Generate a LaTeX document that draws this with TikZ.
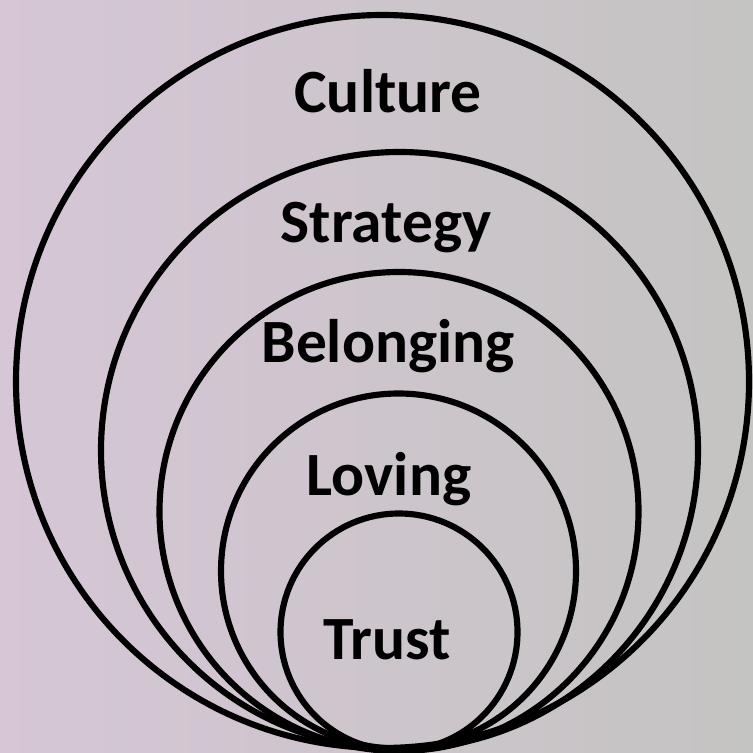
\documentclass[tikz,border=0pt]{standalone}
\usepackage{fontspec}
\setmainfont{Carlito}
\usepackage{tikz}

\definecolor{stoneleft}{RGB}{214,198,214}
\definecolor{stonemid}{RGB}{205,198,204}
\definecolor{stoneright}{RGB}{196,196,194}

\tikzset{
  ring/.style={line width=3.5pt, black},
  lbl/.style={font=\fontsize{35}{42}\selectfont\bfseries, anchor=base, inner sep=0pt}
}

\begin{document}
\begin{tikzpicture}[x=0.02cm,y=-0.02cm]

\useasboundingbox (0,0) rectangle (753,753);
\shade[left color=stoneleft, middle color=stonemid, right color=stoneright] (0,0) rectangle (753,753);

\draw[ring] (382.5,381.5) circle (366.5);
\draw[ring] (399.5,450.5) circle (298.5);
\draw[ring] (399,511.5) circle (239.5);
\draw[ring] (398.5,571) circle (177.5);
\draw[ring] (399,632) circle (118.5);

\node[lbl] (culture) at (388,113) {Culture};
\node[lbl] (strategy) at (386,242) {Strategy};
\node[lbl] (belonging) at (388,362) {Belonging};
\node[lbl] (loving) at (389,495) {Loving};
\node[lbl] (trust) at (387,659) {Trust};

\end{tikzpicture}
\end{document}
